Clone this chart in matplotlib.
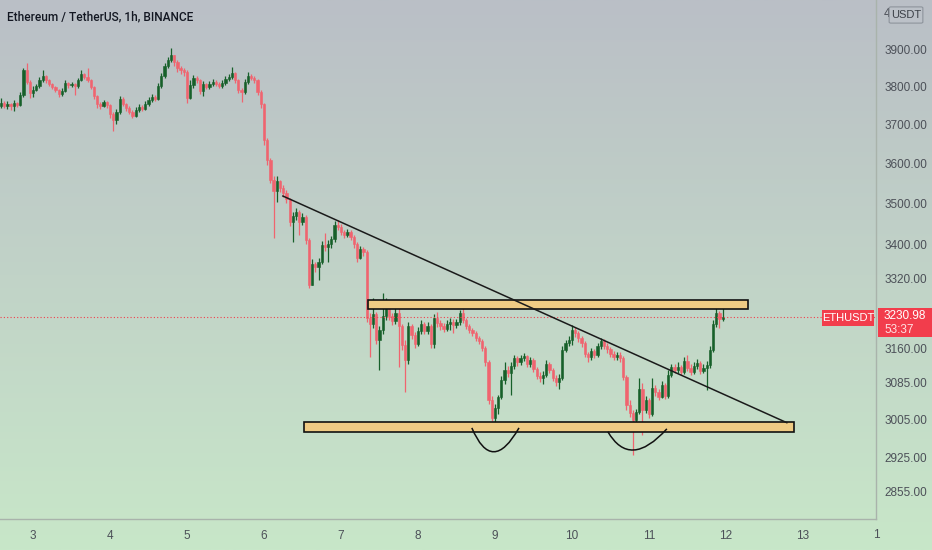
import numpy as np
import matplotlib.pyplot as plt
from matplotlib.path import Path
from matplotlib.patches import PathPatch, Rectangle, FancyBboxPatch
from matplotlib.ticker import FixedLocator, FixedFormatter, NullLocator

plt.rcParams['font.family'] = ['Liberation Sans', 'DejaVu Sans']

# ETH/USDT 1h candles (first candle 10 h before day 3 00:00)
first_hour = -10
first_open = 3749
closes = [
    3757, 3749, 3755, 3749, 3757, 3752, 3779, 3846, 3814, 3784,
    3792, 3803, 3819, 3830, 3819, 3808, 3800, 3792, 3781, 3789,
    3811, 3806, 3808, 3803, 3819, 3835, 3827, 3819, 3800, 3776,
    3755, 3749, 3760, 3752, 3728, 3713, 3734, 3768, 3755, 3744,
    3734, 3723, 3739, 3747, 3741, 3755, 3765, 3773, 3768, 3803,
    3830, 3857, 3873, 3886, 3868, 3851, 3846, 3840, 3770, 3806,
    3824, 3819, 3789, 3808, 3800, 3808, 3814, 3808, 3803, 3811,
    3822, 3827, 3838, 3819, 3792, 3787, 3814, 3830, 3824, 3819,
    3787, 3755, 3661, 3609, 3558, 3530, 3555, 3538, 3525, 3510,
    3454, 3469, 3479, 3454, 3467, 3411, 3305, 3354, 3345, 3359,
    3399, 3394, 3401, 3414, 3447, 3442, 3430, 3423, 3430, 3418,
    3401, 3368, 3389, 3382, 3228, 3215, 3237, 3179, 3201, 3233,
    3249, 3233, 3222, 3240, 3210, 3167, 3134, 3210, 3190, 3170,
    3199, 3215, 3199, 3210, 3170, 3228, 3217, 3210, 3203, 3215,
    3219, 3213, 3219, 3240, 3224, 3210, 3201, 3195, 3183, 3177,
    3161, 3130, 3046, 3008, 3029, 3052, 3090, 3112, 3105, 3121,
    3138, 3130, 3138, 3143, 3125, 3134, 3114, 3099, 3095, 3101,
    3125, 3112, 3095, 3086, 3095, 3156, 3172, 3179, 3201, 3195,
    3183, 3172, 3147, 3141, 3154, 3145, 3165, 3177, 3165, 3159,
    3147, 3141, 3145, 3138, 3097, 3036, 3019, 3004, 3021, 3070,
    3025, 3046, 3017, 3073, 3064, 3053, 3079, 3055, 3101, 3119,
    3112, 3119, 3108, 3132, 3116, 3108, 3121, 3127, 3110, 3116,
    3123, 3156, 3215, 3240, 3226, 3231,
]
highs = [
    3770, 3762, 3762, 3757, 3765, 3760, 3787, 3851, 3865, 3819,
    3803, 3808, 3827, 3846, 3832, 3822, 3811, 3803, 3795, 3797,
    3819, 3814, 3814, 3811, 3824, 3846, 3838, 3851, 3822, 3803,
    3779, 3760, 3765, 3762, 3755, 3734, 3741, 3776, 3773, 3757,
    3749, 3739, 3747, 3755, 3752, 3762, 3773, 3781, 3779, 3811,
    3838, 3865, 3881, 3905, 3886, 3873, 3857, 3851, 3846, 3819,
    3832, 3830, 3822, 3816, 3811, 3816, 3822, 3819, 3814, 3819,
    3830, 3835, 3854, 3840, 3822, 3797, 3822, 3840, 3835, 3830,
    3822, 3792, 3757, 3666, 3614, 3568, 3568, 3558, 3545, 3533,
    3513, 3479, 3489, 3484, 3476, 3472, 3416, 3364, 3359, 3368,
    3409, 3428, 3411, 3421, 3457, 3459, 3450, 3435, 3438, 3435,
    3423, 3406, 3397, 3394, 3387, 3240, 3273, 3242, 3210, 3286,
    3273, 3258, 3240, 3269, 3269, 3215, 3179, 3219, 3215, 3197,
    3208, 3224, 3219, 3219, 3215, 3237, 3242, 3224, 3217, 3224,
    3228, 3226, 3226, 3247, 3253, 3228, 3215, 3206, 3199, 3188,
    3181, 3165, 3134, 3054, 3038, 3057, 3099, 3130, 3121, 3130,
    3145, 3143, 3145, 3149, 3145, 3141, 3138, 3119, 3108, 3110,
    3134, 3130, 3116, 3101, 3103, 3165, 3179, 3188, 3213, 3208,
    3199, 3188, 3177, 3152, 3161, 3159, 3172, 3183, 3181, 3172,
    3163, 3154, 3152, 3152, 3143, 3101, 3046, 3025, 3027, 3095,
    3084, 3054, 3050, 3095, 3079, 3070, 3088, 3084, 3112, 3125,
    3125, 3130, 3123, 3141, 3145, 3125, 3130, 3136, 3132, 3125,
    3132, 3165, 3224, 3262, 3245, 3251,
]
lows = [
    3744, 3744, 3741, 3739, 3736, 3747, 3749, 3773, 3808, 3770,
    3773, 3789, 3797, 3814, 3811, 3803, 3795, 3787, 3773, 3776,
    3787, 3797, 3800, 3779, 3797, 3816, 3822, 3814, 3795, 3768,
    3744, 3741, 3747, 3744, 3718, 3684, 3702, 3728, 3749, 3736,
    3728, 3718, 3720, 3734, 3736, 3739, 3749, 3760, 3762, 3765,
    3797, 3824, 3851, 3868, 3857, 3840, 3835, 3830, 3757, 3768,
    3797, 3811, 3781, 3776, 3795, 3795, 3803, 3803, 3797, 3797,
    3806, 3816, 3822, 3811, 3784, 3760, 3781, 3808, 3819, 3811,
    3779, 3744, 3648, 3596, 3550, 3416, 3503, 3528, 3515, 3501,
    3445, 3406, 3459, 3423, 3447, 3401, 3297, 3303, 3335, 3316,
    3354, 3385, 3359, 3392, 3406, 3435, 3423, 3416, 3418, 3411,
    3392, 3359, 3364, 3373, 3219, 3141, 3206, 3170, 3112, 3192,
    3224, 3224, 3213, 3215, 3119, 3156, 3064, 3125, 3181, 3161,
    3165, 3192, 3192, 3192, 3161, 3161, 3208, 3201, 3197, 3199,
    3201, 3195, 3206, 3213, 3217, 3203, 3195, 3188, 3177, 3170,
    3154, 3121, 3038, 3002, 3000, 3017, 3048, 3081, 3097, 3057,
    3114, 3121, 3123, 3132, 3119, 3119, 3108, 3092, 3086, 3081,
    3097, 3105, 3088, 3077, 3070, 3090, 3152, 3165, 3167, 3186,
    3174, 3163, 3141, 3130, 3134, 3138, 3141, 3159, 3159, 3150,
    3141, 3134, 3134, 3130, 3090, 3025, 3010, 2930, 2996, 3017,
    2973, 3019, 3008, 3013, 3055, 3046, 3050, 3048, 3050, 3097,
    3105, 3105, 3101, 3103, 3110, 3101, 3103, 3114, 3103, 3105,
    3068, 3116, 3152, 3208, 3206, 3222,
]
last_price = 3230.98
countdown = '53:37'

price_ticks = [3900, 3800, 3700, 3600, 3500, 3400, 3320, 3160, 3085, 3005, 2925, 2855]
day_ticks = [0, 24, 48, 72, 96, 120, 144, 168, 192, 216, 240]
day_labels = ['3', '4', '5', '6', '7', '8', '9', '10', '11', '12', '13']

# drawings on the chart (hour, price)
trend_line = ([77.9, 235.0], [3518, 2998])
upper_zone = (104.4, 222.9, 3249, 3269)
lower_zone = (84.5, 237.2, 2979, 3000)
arc_left = [(136.8, 2987), (143.1, 2888), (151.5, 2987)]
arc_right = [(179.2, 2979), (186.1, 2900), (197.6, 2985)]

W, H = 932, 550
UP = '#17602a'
DOWN = '#f0646f'
RED = '#f23d4c'
AXIS_TXT = '#4c5058'

fig = plt.figure(figsize=(W / 100, H / 100), dpi=100)

# background gradient over the whole picture
bg = fig.add_axes([0, 0, 1, 1])
bg.axis('off')
top = np.array([186, 191, 198]) / 255
bot = np.array([200, 231, 201]) / 255
g = np.linspace(0, 1, 256)[:, None, None]
bg.imshow(top + (bot - top) * g, aspect='auto', extent=[0, 1, 0, 1])
bg.set_xlim(0, 1)
bg.set_ylim(0, 1)

ax = fig.add_axes([0, 31 / H, 876 / W, 519 / H])
ax.patch.set_alpha(0)
ax.set_yscale('log')

hours = np.arange(len(closes)) + first_hour
opens = np.array([first_open] + closes[:-1])
c = np.array(closes)
cols = [UP if cc >= oo else DOWN for oo, cc in zip(opens, c)]
ax.vlines(hours, lows, highs, colors=cols, lw=0.9)
ax.bar(hours, np.abs(c - opens), bottom=np.minimum(opens, c), width=0.7,
       color=cols, edgecolor=cols, lw=0.4)

# current price line
ax.axhline(last_price, color=RED, ls=(0, (1, 2)), lw=0.8)

# zones, trend line and the two bottoms
for x0, x1, p0, p1 in [upper_zone, lower_zone]:
    ax.add_patch(Rectangle((x0, p0), x1 - x0, p1 - p0, facecolor='#efcb84',
                           edgecolor='#111111', lw=1.2, zorder=3))
ax.plot(*trend_line, color='#1a1a1a', lw=1.1, zorder=4)
for arc in [arc_left, arc_right]:
    path = Path(arc, [Path.MOVETO, Path.CURVE3, Path.CURVE3])
    ax.add_patch(PathPatch(path, facecolor='none', edgecolor='#111111', lw=1.1, zorder=4))

ax.set_xlim(-10.3, 262.8)
ax.set_ylim(2801, 4040)

ax.yaxis.tick_right()
ax.yaxis.set_major_locator(FixedLocator(price_ticks))
ax.yaxis.set_major_formatter(FixedFormatter(['%.2f' % p for p in price_ticks]))
ax.yaxis.set_minor_locator(NullLocator())
ax.set_xticks(day_ticks)
ax.set_xticklabels(day_labels)
ax.tick_params(axis='y', length=0, pad=6, labelsize=8.5, labelcolor=AXIS_TXT)
ax.tick_params(axis='x', length=0, pad=8, labelsize=8.5, labelcolor=AXIS_TXT)
for s in ['top', 'left']:
    ax.spines[s].set_visible(False)
for s in ['right', 'bottom']:
    ax.spines[s].set_color('#a9b3ab')
    ax.spines[s].set_linewidth(1)


def px(x, y):
    return x / W, 1 - y / H


fig.text(*px(7, 17), 'Ethereum / TetherUS, 1h, BINANCE', fontsize=8.6,
         family=['Roboto', 'Liberation Sans'], weight='medium',
         color='#131722', va='center')
# day 14 label and 4000 price label, cut off by the axes and the badge
fig.text(*px(876, 535), '1', fontsize=8.5, color=AXIS_TXT, ha='center', va='center')
fig.text(*px(884, 14), '4', fontsize=8.5, color=AXIS_TXT, va='center')

# USDT badge
ub = FancyBboxPatch(px(891, 22), 30 / W, 14 / H, boxstyle='round,pad=0.002',
                    transform=fig.transFigure, facecolor='#bcc1c8',
                    edgecolor='#8e949c', lw=0.8, zorder=5)
fig.patches.append(ub)
fig.text(*px(906, 15), 'USDT', fontsize=8, color='#3c4048', ha='center',
         va='center', zorder=6)

# symbol and last price labels
fig.patches.append(Rectangle(px(822, 326), 52 / W, 16 / H, transform=fig.transFigure,
                             facecolor=RED, edgecolor='none', zorder=5))
fig.text(*px(848, 318), 'ETHUSDT', fontsize=8, color='white', ha='center',
         va='center', zorder=6)
fig.patches.append(Rectangle(px(878, 337), 54 / W, 29 / H, transform=fig.transFigure,
                             facecolor=RED, edgecolor='none', zorder=5))
fig.text(*px(884, 316), '%.2f' % last_price, fontsize=8.5, color='white',
         va='center', zorder=6)
fig.text(*px(884, 330), countdown, fontsize=8.5, color='#ffe0e2',
         va='center', zorder=6)

fig.savefig('out.png', dpi=100)
